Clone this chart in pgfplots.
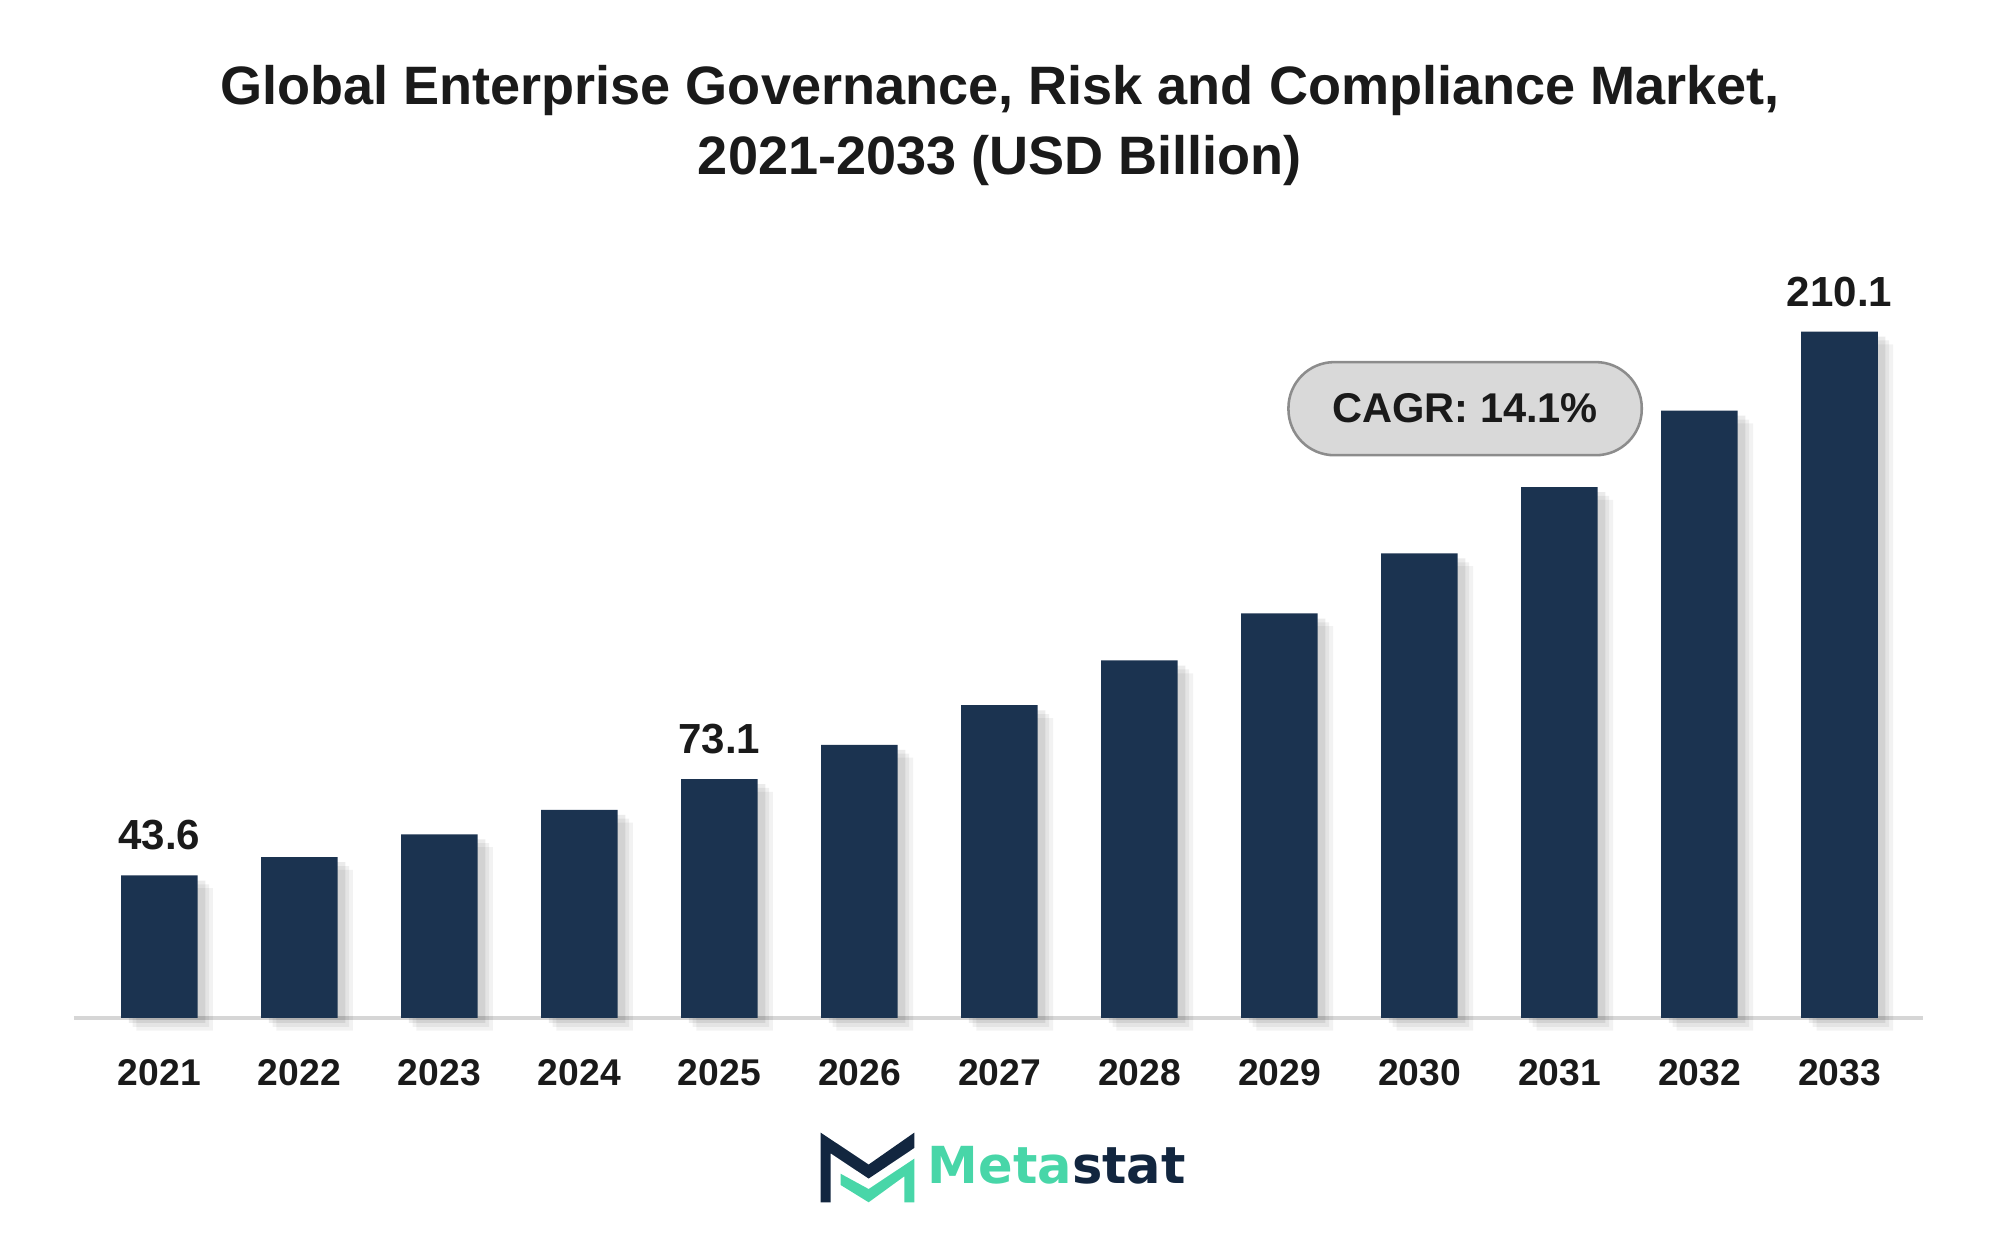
\documentclass[border=0pt]{standalone}
\usepackage{pgfplots}
\pgfplotsset{compat=1.18}
\usepackage{fontspec}
\setmainfont{Liberation Sans}
\newfontfamily\logofont{DejaVu Sans}
\definecolor{barcol}{HTML}{1B3350}
\definecolor{txt}{HTML}{1A1A1A}
\definecolor{logogreen}{HTML}{48D6A8}
\definecolor{logonavy}{HTML}{12263F}
\definecolor{bubfill}{HTML}{D9D9D9}
\definecolor{bubdraw}{HTML}{8C8C8C}
\definecolor{axcol}{HTML}{D6D6D6}
\begin{document}
\begin{tikzpicture}
\path[use as bounding box] (-29pt,-87pt) rectangle (755pt,399pt);
\begin{axis}[
  at={(0pt,0pt)}, anchor=south west,
  scale only axis, width=725pt, height=294.5pt,
  xmin=-0.61, xmax=12.6, ymin=0, ymax=230,
  axis x line=bottom, axis y line=none,
  x axis line style={-, draw=axcol, line width=1.4pt},
  xtick={0,...,12},
  xticklabels={2021,2022,2023,2024,2025,2026,2027,2028,2029,2030,2031,2032,2033},
  major tick length=0pt,
  xticklabel style={font=\fontsize{14.6}{16}\selectfont\bfseries, text=txt, anchor=base, yshift=-26.5pt},
  ytick=\empty,
  clip=false,
  ybar, bar width=30pt, bar shift=0pt,
]
\addplot[fill=barcol, draw=none,
  preaction={fill=black, fill opacity=0.05, draw=none, transform canvas={xshift=6pt, yshift=-5pt}},
  preaction={fill=black, fill opacity=0.06, draw=none, transform canvas={xshift=4.5pt, yshift=-3.5pt}},
  preaction={fill=black, fill opacity=0.08, draw=none, transform canvas={xshift=3pt, yshift=-2pt}}]
  coordinates {
  (0,43.6) (1,49.2) (2,56.2) (3,63.7) (4,73.1) (5,83.6)
  (6,95.7) (7,109.4) (8,123.8) (9,142.2) (10,162.5) (11,185.9) (12,210.1)
  };
\addplot[draw=none, fill=none, nodes near coords, point meta=explicit symbolic,
  every node near coord/.append style={font=\fontsize{16.5}{18}\selectfont\bfseries, text=txt, anchor=base, yshift=10pt}]
  coordinates {(0,43.6)[43.6] (4,73.1)[73.1] (12,210.1)[210.1]};
\node[draw=bubdraw, line width=1pt, fill=bubfill, rounded corners=18pt,
  minimum width=138.5pt, minimum height=36.5pt, inner sep=0pt,
  font=\fontsize{16.3}{18}\selectfont\bfseries, text=txt]
  at (axis cs:9.326,186.5) {CAGR: 14.1\%};
\end{axis}
% title
\node[anchor=base, font=\fontsize{21.2}{24}\selectfont\bfseries, text=txt, inner sep=0pt]
  at (363pt,358pt) {Global Enterprise Governance, Risk and Compliance Market,};
\node[anchor=base, font=\fontsize{21.2}{24}\selectfont\bfseries, text=txt, inner sep=0pt]
  at (363pt,330.7pt) {2021-2033 (USD Billion)};
% logo
\begin{scope}[yshift=-2.5pt]
\fill[logonavy] (292.7pt,-69.8pt) -- (292.7pt,-42.5pt) -- (311.5pt,-55.0pt) -- (329.4pt,-42.5pt)
  -- (329.4pt,-48.5pt) -- (311.5pt,-60.5pt) -- (296.6pt,-50.6pt) -- (296.6pt,-69.8pt) -- cycle;
\fill[logogreen] (300.5pt,-58.6pt) -- (311.5pt,-64.6pt) -- (329.4pt,-52.7pt) -- (329.4pt,-69.8pt)
  -- (325.5pt,-69.8pt) -- (325.5pt,-59.6pt) -- (311.5pt,-69.8pt) -- (300.5pt,-63.0pt) -- cycle;
\end{scope}
\node[anchor=base west, inner sep=0pt, font=\logofont\bfseries\fontsize{20}{24}\selectfont]
  at (334.5pt,-65pt) {\textcolor{logogreen}{Meta}\textcolor{logonavy}{stat}};
\end{tikzpicture}
\end{document}
